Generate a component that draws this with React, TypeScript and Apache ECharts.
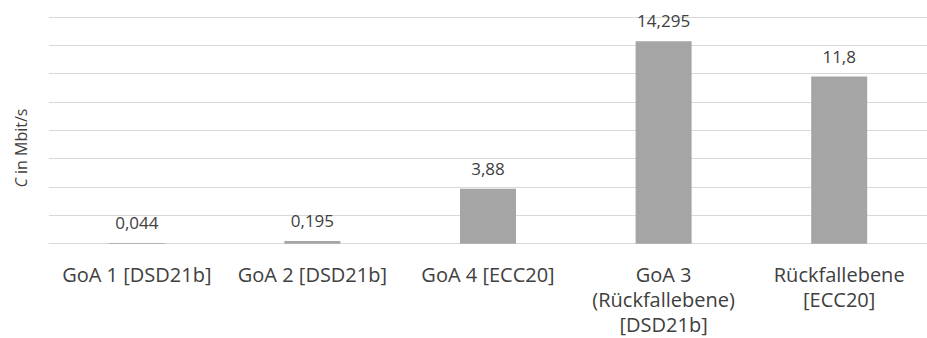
import React, { useEffect, useRef } from "react";
import * as echarts from "echarts";

const categories: string[] = [
  "GoA 1 [DSD21b]",
  "GoA 2 [DSD21b]",
  "GoA 4 [ECC20]",
  "GoA 3\n(Rückfallebene)\n[DSD21b]",
  "Rückfallebene\n[ECC20]",
];
const values: number[] = [0.044, 0.195, 3.88, 14.295, 11.8];
const yMin = 0;
const yMax = 16;
const yInterval = 2;
const yTitle = "{i|C} in Mbit/s";

export default function App() {
  const ref = useRef<HTMLDivElement>(null);
  useEffect(() => {
    document.body.style.margin = "0";
    const chart = echarts.init(ref.current!, null, { renderer: "svg" });
    const font = "'Open Sans', 'Noto Sans', sans-serif";
    chart.setOption({
      animation: false,
      textStyle: { fontFamily: font },
      grid: { left: 49, width: 886, top: 17, height: 226.7, containLabel: false },
      xAxis: {
        type: "category",
        data: categories,
        axisLine: { show: true, lineStyle: { color: "#d9d9d9", width: 1 } },
        axisTick: { show: false },
        axisLabel: {
          interval: 0,
          color: "#404040",
          fontSize: 20,
          fontFamily: font,
          lineHeight: 25,
          margin: 18,
        },
      },
      yAxis: {
        type: "value",
        min: yMin,
        max: yMax,
        interval: yInterval,
        axisLabel: { show: false },
        axisLine: { show: false },
        axisTick: { show: false },
        splitLine: { lineStyle: { color: "#d9d9d9", width: 1 } },
      },
      graphic: [
        {
          type: "text",
          x: 21,
          y: 148,
          rotation: Math.PI / 2,
          style: {
            text: yTitle,
            fill: "#404040",
            fontSize: 16,
            fontFamily: font,
            align: "center",
            verticalAlign: "middle",
            rich: {
              i: { fontStyle: "italic", fontSize: 16, fill: "#404040", fontFamily: font },
            },
          },
        },
      ],
      series: [
        {
          type: "bar",
          data: values,
          barWidth: 56,
          itemStyle: { color: "#a5a5a5" },
          label: {
            show: true,
            position: "top",
            distance: 12,
            color: "#404040",
            fontSize: 17,
            fontFamily: font,
            formatter: (p: any) => String(p.value).replace(".", ","),
          },
        },
      ],
    });
    return () => chart.dispose();
  }, []);
  return <div ref={ref} style={{ width: 927, height: 338 }} />;
}
